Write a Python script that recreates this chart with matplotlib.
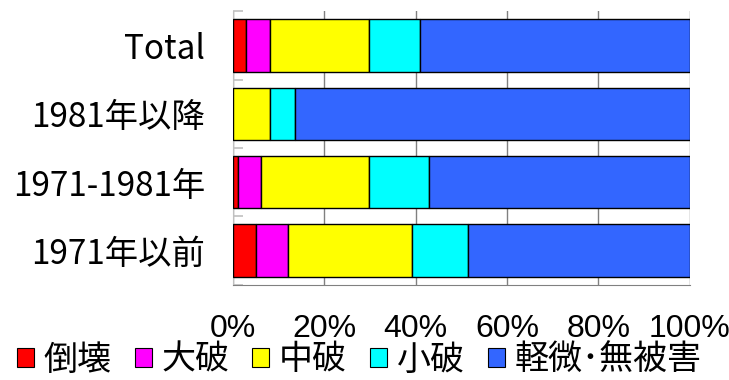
import numpy as np
import matplotlib
matplotlib.use("Agg")
import matplotlib.pyplot as plt
from matplotlib.patches import Patch

# categories, top to bottom
categories = ['Total', '1981年以降', '1971-1981年', '1971年以前']
damage_labels = ['倒壊', '大破', '中破', '小破', '軽微･無被害']
colors = ['#FF0000', '#FF00FF', '#FFFF00', '#00FFFF', '#3366FF']

# shares (%) per category
collapse = [2.9, 0.0, 1.0, 5.1]
major = [5.1, 0.0, 5.1, 7.0]
moderate = [21.9, 8.2, 23.8, 27.2]
minor_dmg = [11.0, 5.3, 13.0, 12.1]
slight = [59.1, 86.5, 57.1, 48.6]

xticks = [0, 20, 40, 60, 80, 100]
xticklabels = ['0%', '20%', '40%', '60%', '80%', '100%']

jp_font = ['Noto Sans CJK JP', 'DejaVu Sans']
num_font = ['Liberation Sans Narrow', 'Liberation Sans', 'DejaVu Sans']

fig = plt.figure(figsize=(7.29, 3.80), dpi=100)
ax = fig.add_axes([233 / 729, 1 - 284.7 / 380, (689.5 - 233) / 729, (284.7 - 11.3) / 380])

series = [collapse, major, moderate, minor_dmg, slight]
y = np.arange(len(categories))
left = np.zeros(len(categories))
for vals, col in zip(series, colors):
    vals = np.array(vals)
    ax.barh(y, vals, left=left, height=0.77, color=col, edgecolor='black', linewidth=1.0, zorder=3)
    left += vals

ax.set_xlim(0, 100)
ax.set_ylim(len(categories) - 0.5, -0.5)

ax.set_xticks(xticks)
ax.set_xticklabels(xticklabels, family=num_font, fontsize=23)
ax.tick_params(axis='x', length=0, pad=21)
ax.grid(axis='x', color='#808080', linewidth=1.0, zorder=0)
ax.set_axisbelow(True)

ax.set_yticks(y)
ax.set_yticklabels(categories, family=jp_font, fontsize=24)
ax.tick_params(axis='y', which='major', length=0, pad=20)
ax.set_yticks(np.arange(-0.5, len(categories) + 0.5, 1), minor=True)
ax.tick_params(axis='y', which='minor', direction='in', length=7, color='#c0c0c0', width=1.2)

for s in ['top', 'right']:
    ax.spines[s].set_visible(False)
ax.spines['left'].set_color('#c0c0c0')
ax.spines['bottom'].set_color('#808080')

handles = [Patch(facecolor=c, edgecolor='black', linewidth=0.8) for c in colors]
fig.legend(handles, damage_labels, loc='center left', bbox_to_anchor=(17 / 729, 1 - 360 / 380),
           ncol=5, frameon=False, prop={'family': jp_font, 'size': 24.5},
           handlelength=0.5, handleheight=0.5, handletextpad=0.28, columnspacing=0.68,
           borderpad=0, borderaxespad=0)

fig.savefig('out.png', dpi=100)
